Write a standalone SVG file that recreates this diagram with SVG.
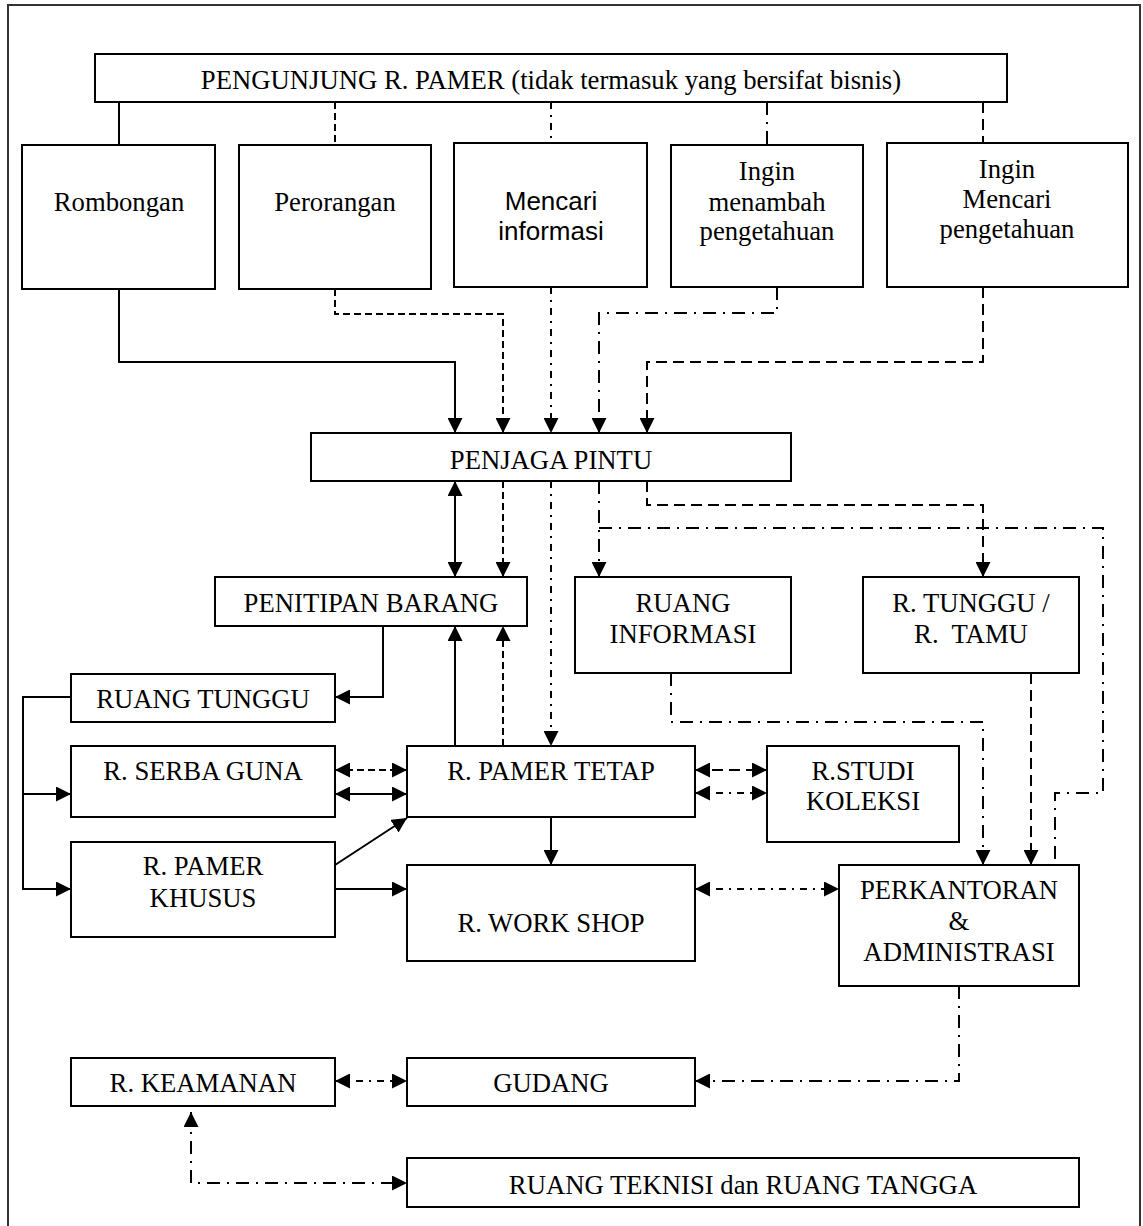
<svg xmlns="http://www.w3.org/2000/svg" width="1143" height="1226" viewBox="0 0 1143 1226">
<style>
.box{fill:#fff;stroke:#000;stroke-width:2}
.t{font-family:"Liberation Serif","Times New Roman",serif;font-size:26.7px;text-anchor:middle;fill:#000}
.ts{font-family:"Liberation Sans",Arial,sans-serif;font-size:26px}
.c{fill:none;stroke:#000;stroke-width:2}
.dash{stroke-dasharray:7 4}
.ldash{stroke-dasharray:11 6}
.dd{stroke-dasharray:13 7 2 7}
.sdd{stroke-dasharray:7 6 2 6}
.frame{fill:none;stroke:#333;stroke-width:2}
</style>
<defs>
<marker id="a" viewBox="0 0 15 15" refX="15" refY="7.5" markerWidth="15" markerHeight="15" markerUnits="userSpaceOnUse" orient="auto-start-reverse">
<path d="M0,0 L15,7.5 L0,15 z" fill="#000"/>
</marker>
</defs>
<rect width="1143" height="1226" fill="#fff"/>
<path class="frame" d="M8,1230 V5 H1140 V1230"/>

<g id="connectors">
<path class="c" d="M119,102 V145"/>
<path class="c dash" d="M335,102 V145"/>
<path class="c sdd" d="M551,102 V143"/>
<path class="c dd" d="M767,102 V145"/>
<path class="c ldash" d="M983,102 V143"/>

<path class="c" d="M119,289 V362 H455 V433" marker-end="url(#a)"/>
<path class="c dash" d="M335,289 V314 H503 V433" marker-end="url(#a)"/>
<path class="c sdd" d="M551,287 V433" marker-end="url(#a)"/>
<path class="c dd" d="M777,287 V313 H599 V433" marker-end="url(#a)"/>
<path class="c ldash" d="M983,287 V362 H647 V433" marker-end="url(#a)"/>

<path class="c" d="M455,481 V577" marker-start="url(#a)" marker-end="url(#a)"/>
<path class="c dash" d="M503,481 V577" marker-end="url(#a)"/>
<path class="c sdd" d="M551,481 V746" marker-end="url(#a)"/>
<path class="c dd" d="M599,481 V577" marker-end="url(#a)"/>
<path class="c dd" d="M599,528 H1103 V793 H1055 V865"/>
<path class="c ldash" d="M647,481 V505 H983 V577" marker-end="url(#a)"/>

<path class="c" d="M383,626 V697 H335" marker-end="url(#a)"/>
<path class="c" d="M71,697 H23 V889 H71" marker-end="url(#a)"/>
<path class="c" d="M23,794 H71" marker-end="url(#a)"/>

<path class="c dash" d="M335,770 H407" marker-start="url(#a)" marker-end="url(#a)"/>
<path class="c" d="M335,794 H407" marker-start="url(#a)" marker-end="url(#a)"/>
<path class="c" d="M455,746 V626" marker-end="url(#a)"/>
<path class="c dash" d="M503,746 V626" marker-end="url(#a)"/>

<path class="c ldash" d="M695,770 H767" marker-start="url(#a)" marker-end="url(#a)"/>
<path class="c sdd" d="M695,793 H767" marker-start="url(#a)" marker-end="url(#a)"/>

<path class="c dd" d="M671,673 V722 H983 V865" marker-end="url(#a)"/>
<path class="c ldash" d="M1031,673 V865" marker-end="url(#a)"/>

<path class="c" d="M551,817 V865" marker-end="url(#a)"/>
<path class="c" d="M335,865 L407,818" marker-end="url(#a)"/>
<path class="c" d="M335,889 H407" marker-end="url(#a)"/>
<path class="c sdd" d="M695,889 H839" marker-start="url(#a)" marker-end="url(#a)"/>

<path class="c dd" d="M959,986 V1081 H695" marker-end="url(#a)"/>
<path class="c sdd" d="M335,1081 H407" marker-start="url(#a)" marker-end="url(#a)"/>
<path class="c dd" d="M191,1112 V1183 H407" marker-start="url(#a)" marker-end="url(#a)"/>
</g>

<g id="pengunjung"><rect class="box" x="95" y="54" width="912" height="48"/><text class="t" x="551" y="89">PENGUNJUNG R. PAMER (tidak termasuk yang bersifat bisnis)</text></g>
<g id="rombongan"><rect class="box" x="22" y="145" width="193" height="144"/><text class="t" x="119" y="211">Rombongan</text></g>
<g id="perorangan"><rect class="box" x="239" y="145" width="192" height="144"/><text class="t" x="335" y="211">Perorangan</text></g>
<g id="mencari-informasi"><rect class="box" x="454" y="143" width="193" height="144"/><text class="t ts" x="551" y="210">Mencari</text><text class="t ts" x="551" y="239.5">informasi</text></g>
<g id="ingin-menambah"><rect class="box" x="671" y="145" width="192" height="142"/><text class="t" x="767" y="180">Ingin</text><text class="t" x="767" y="210.5">menambah</text><text class="t" x="767" y="239.5">pengetahuan</text></g>
<g id="ingin-mencari"><rect class="box" x="887" y="143" width="241" height="144"/><text class="t" x="1007" y="178">Ingin</text><text class="t" x="1007" y="207.5">Mencari</text><text class="t" x="1007" y="238">pengetahuan</text></g>
<g id="penjaga-pintu"><rect class="box" x="311" y="433" width="480" height="48"/><text class="t" x="551" y="468.5">PENJAGA PINTU</text></g>
<g id="penitipan-barang"><rect class="box" x="215" y="577" width="312" height="49"/><text class="t" x="371" y="612">PENITIPAN BARANG</text></g>
<g id="ruang-informasi"><rect class="box" x="575" y="577" width="216" height="96"/><text class="t" x="683" y="612">RUANG</text><text class="t" x="683" y="642.5">INFORMASI</text></g>
<g id="r-tunggu-tamu"><rect class="box" x="863" y="577" width="216" height="96"/><text class="t" x="971" y="612">R. TUNGGU /</text><text class="t" x="971" y="642.5" xml:space="preserve">R.  TAMU</text></g>
<g id="ruang-tunggu"><rect class="box" x="71" y="674" width="264" height="48"/><text class="t" x="203" y="707.5">RUANG TUNGGU</text></g>
<g id="r-serba-guna"><rect class="box" x="71" y="746" width="264" height="71"/><text class="t" x="203" y="780">R. SERBA GUNA</text></g>
<g id="r-pamer-tetap"><rect class="box" x="407" y="746" width="288" height="71"/><text class="t" x="551" y="780">R. PAMER TETAP</text></g>
<g id="r-studi-koleksi"><rect class="box" x="767" y="746" width="192" height="96"/><text class="t" x="863" y="780">R.STUDI</text><text class="t" x="863" y="810">KOLEKSI</text></g>
<g id="r-pamer-khusus"><rect class="box" x="71" y="842" width="264" height="95"/><text class="t" x="203" y="875">R. PAMER</text><text class="t" x="203" y="906.5">KHUSUS</text></g>
<g id="r-work-shop"><rect class="box" x="407" y="865" width="288" height="96"/><text class="t" x="551" y="931.5">R. WORK SHOP</text></g>
<g id="perkantoran"><rect class="box" x="839" y="865" width="240" height="121"/><text class="t" x="959" y="898.5">PERKANTORAN</text><text class="t" x="959" y="930">&amp;</text><text class="t" x="959" y="961">ADMINISTRASI</text></g>
<g id="r-keamanan"><rect class="box" x="71" y="1058" width="264" height="48"/><text class="t" x="203" y="1092">R. KEAMANAN</text></g>
<g id="gudang"><rect class="box" x="407" y="1058" width="288" height="48"/><text class="t" x="551" y="1092">GUDANG</text></g>
<g id="ruang-teknisi"><rect class="box" x="407" y="1158" width="672" height="49"/><text class="t" x="743" y="1193.5">RUANG TEKNISI dan RUANG TANGGA</text></g>
</svg>
